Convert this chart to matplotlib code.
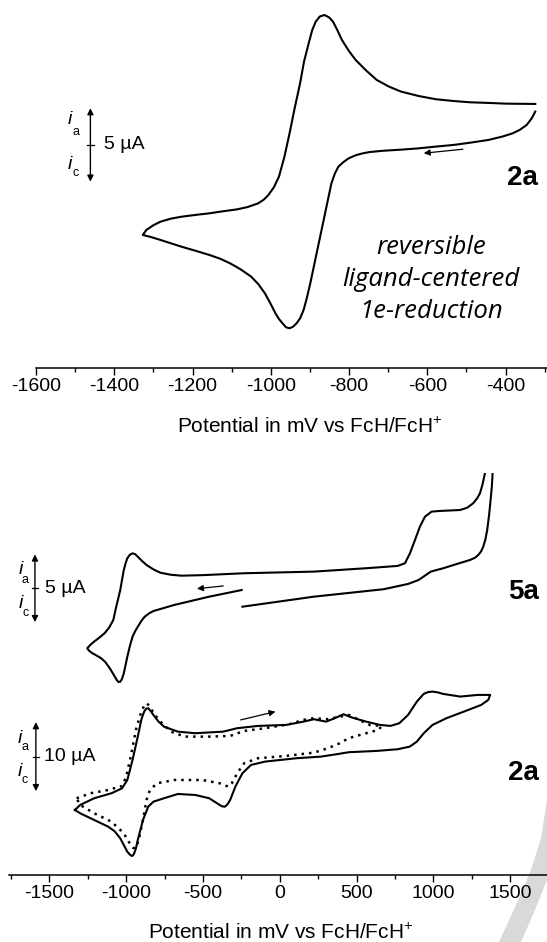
import matplotlib
matplotlib.use("Agg")
import matplotlib.pyplot as plt
from matplotlib.patches import Polygon
from matplotlib.ticker import MultipleLocator

plt.rcParams['font.family'] = ['Liberation Sans', 'DejaVu Sans']
plt.rcParams['mathtext.fontset'] = 'custom'
plt.rcParams['mathtext.rm'] = 'Liberation Sans'
plt.rcParams['axes.unicode_minus'] = False

# ---- data (potential in mV vs FcH/FcH+, current in uA) ----
# top panel, complex 2a, -1330 ... -320 mV
E_2a_top = [-324, -333, -346, -364, -382, -408, -444, -489, -533, -578, -622, -667, -711, -747, -765,
            -783, -801, -814, -827, -836, -845, -854, -863, -872, -881, -890, -899, -908, -916, -925,
            -934, -943, -952, -961, -970, -979, -988, -1001, -1015, -1032, -1050, -1077, -1104, -1130,
            -1157, -1193, -1228, -1255, -1282, -1304, -1327,
            -1318, -1300, -1282, -1255, -1228, -1193, -1157, -1122, -1086, -1059, -1032, -1017, -1006,
            -992, -979, -965, -952, -939, -925, -915, -903, -894, -885, -875, -863, -851, -841, -830,
            -818, -801, -783, -756, -729, -698, -667, -622, -578, -533, -489, -444, -399, -324]
I_2a_top = [2.27, 1.81, 1.36, 1.02, 0.79, 0.57, 0.34, 0.16, 0.0, -0.11, -0.23, -0.32, -0.39, -0.48,
            -0.57, -0.70, -0.91, -1.16, -1.47, -1.93, -2.61, -3.74, -4.88, -6.01, -7.14, -8.28, -9.41,
            -10.43, -11.22, -11.79, -12.13, -12.36, -12.47, -12.40, -12.13, -11.84, -11.45, -10.77,
            -10.09, -9.46, -8.96, -8.46, -8.05, -7.73, -7.48, -7.19, -6.92, -6.69, -6.46, -6.28, -6.12,
            -5.78, -5.46, -5.22, -5.01, -4.88, -4.76, -4.65, -4.51, -4.38, -4.22, -3.97, -3.70, -3.40,
            -2.88, -2.15, -0.79, 0.79, 2.49, 4.20, 5.67, 6.92, 7.82, 8.39, 8.73, 8.84, 8.68, 8.39, 7.82,
            7.14, 6.42, 5.78, 5.06, 4.42, 3.97, 3.63, 3.33, 3.11, 2.99, 2.90, 2.86, 2.81, 2.79]

# middle trace, complex 5a
E_5a = [-248, -459, -686, -822, -850, -879, -900, -924, -940, -958, -975, -992, -1004, -1015, -1027,
        -1038, -1050, -1061, -1080, -1106, -1135, -1162, -1190, -1219, -1240, -1253,
        -1230, -1208, -1175, -1140, -1110, -1083, -1065, -1050, -1038, -1026, -1015, -1003, -992, -975,
        -958, -941, -924, -895, -867, -820, -777, -710, -640, -500, -232, 222, 562, 767, 815, 847, 880,
        912, 945, 988, 1042, 1100, 1173, 1220, 1259, 1285, 1303, 1320, 1335, 1360, 1392, 1385,
        1380, 1372, 1362, 1350, 1338, 1324, 1310, 1292, 1270, 1238, 1151, 1064, 1021, 983, 903, 835,
        676, 222, -243]
I_5a = [-0.13, -0.62, -1.23, -1.68, -1.85, -2.10, -2.40, -2.84, -3.15, -3.57, -4.25, -5.05, -5.70, -6.28,
        -6.70, -6.90, -6.92, -6.77, -6.40, -5.91, -5.45, -5.17, -4.98, -4.80, -4.62, -4.43,
        -4.15, -3.94, -3.65, -3.32, -2.90, -2.34, -1.40, -0.70, -0.13, 0.65, 1.35, 1.85, 2.22, 2.48,
        2.58, 2.52, 2.33, 2.00, 1.72, 1.38, 1.15, 1.00, 0.93, 0.97, 1.11, 1.23, 1.48, 1.65, 1.85, 2.58,
        3.57, 4.55, 5.29, 5.66, 5.71, 5.74, 5.78, 5.95, 6.28, 6.65, 7.02, 7.70, 8.49, 12.0, 12.0, 8.49,
        7.50, 6.52, 5.40, 4.31, 3.60, 3.07, 2.72, 2.46, 2.25, 2.09, 1.79, 1.48, 1.35, 1.23, 0.61, 0.32,
        -0.07, -0.62, -1.36]

# bottom trace, complex 2a, full window (solid)
E_2a_full = [-1333, -1299, -1208, -1095, -1026, -992, -958, -924, -901, -890, -879, -867, -856, -840,
             -822, -790, -754, -663, -550, -368, -277, -141, 40, 154, 222, 301, 358, 415, 472, 562, 653,
             721, 778, 835, 892, 937, 965, 994, 1030, 1062, 1175, 1289, 1369,
             1357, 1311, 1198, 1085, 994, 937, 892, 846, 767, 631, 449, 381, 267, 109, -96, -187, -243,
             -289, -323, -340, -357, -375, -391, -459, -550, -663, -754, -822, -856, -890, -924, -935,
             -947, -955, -963, -975, -992, -1015, -1038, -1075, -1117, -1208, -1299, -1333]
I_2a_full = [-7.72, -7.0, -6.03, -5.30, -4.58, -3.38, -0.48, 2.90, 5.32, 6.10, 6.67, 6.98, 7.01, 6.60,
             6.04, 5.10, 4.35, 3.62, 3.39, 3.62, 4.12, 4.45, 4.59, 5.07, 5.42, 5.07, 5.57, 6.14, 5.65,
             5.07, 4.59, 4.45, 4.84, 6.04, 7.97, 9.09, 9.35, 9.42, 9.30, 9.09, 8.70, 8.94, 8.94,
             8.22, 7.49, 6.52, 5.57, 4.59, 3.39, 2.17, 1.45, 1.07, 0.83, 0.64, 0.39, 0.0, -0.23, -0.72,
             -1.20, -2.41, -4.35, -6.28, -6.90, -7.25, -7.20, -7.0, -6.03, -5.55, -5.41, -6.03, -6.52,
             -7.25, -9.17, -12.07, -13.20, -14.0, -14.30, -14.39, -14.20, -13.77, -12.80, -11.83, -10.80,
             -10.14, -9.17, -8.2, -7.72]

# bottom trace, complex 2a, reversed at +660 mV (dotted)
E_2a_short = [-1322, -1231, -1117, -1026, -999, -970, -936, -901, -884, -867, -850, -834, -788, -709,
              -618, -459, -323, -232, -96, 63, 154, 222, 313, 392, 449, 517, 585, 664,
              642, 562, 449, 381, 313, 222, 40, -141, -232, -277, -312, -334, -391, -504, -686, -799,
              -845, -867, -890, -913, -927, -940, -955, -970, -1015, -1095, -1208, -1299, -1322]
I_2a_short = [-6.03, -5.30, -4.83, -4.25, -2.90, 0.0, 3.87, 6.52, 7.30, 7.74, 7.40, 6.77, 5.32, 3.62,
              2.90, 2.90, 3.0, 3.72, 4.12, 4.70, 5.32, 5.57, 5.42, 5.80, 6.04, 5.32, 4.59, 4.45,
              3.87, 3.39, 2.67, 1.84, 1.22, 0.58, 0.10, -0.23, -0.96, -2.41, -3.86, -4.35, -3.86, -3.38,
              -3.38, -3.86, -4.83, -6.28, -9.17, -11.59, -12.70, -13.28, -13.20, -12.80, -11.10, -9.42,
              -8.2, -7.0, -6.03]

W, H = 547, 942


def box(x0, y0, x1, y1):
    # pixel box (top-left origin) -> figure fraction
    return [x0 / W, 1 - y1 / H, (x1 - x0) / W, (y1 - y0) / H]


def scale_bar(ax, x, half, label, tick, dx_text, dx_i, dx_sub, y_i):
    # y_i = (i_a letter, a, i_c letter, c) heights in uA
    ax.annotate('', xy=(x, half), xytext=(x, -half),
                arrowprops=dict(arrowstyle='<|-|>', lw=1.0, color='k', mutation_scale=9,
                                shrinkA=0, shrinkB=0))
    ax.plot([x - tick, x + tick], [0, 0], color='k', lw=0.9)
    ax.text(x + dx_text, 0, label, fontsize=14, ha='left', va='center')
    ax.text(x - dx_i, y_i[0], 'i', fontsize=14, style='italic', ha='center', va='center')
    ax.text(x - dx_sub, y_i[1], 'a', fontsize=9, ha='center', va='center')
    ax.text(x - dx_i, y_i[2], 'i', fontsize=14, style='italic', ha='center', va='center')
    ax.text(x - dx_sub, y_i[3], 'c', fontsize=9, ha='center', va='center')


def direction(ax, x0, y0, x1, y1):
    ax.annotate('', xy=(x1, y1), xytext=(x0, y0),
                arrowprops=dict(arrowstyle='-|>', lw=0.9, color='k', mutation_scale=9,
                                shrinkA=0, shrinkB=0))


def style_axis(ax, major, minor):
    for s in ['left', 'right', 'top']:
        ax.spines[s].set_visible(False)
    ax.spines['bottom'].set_linewidth(1.1)
    ax.set_yticks([])
    ax.xaxis.set_major_locator(MultipleLocator(major))
    ax.xaxis.set_minor_locator(MultipleLocator(minor))
    ax.tick_params(axis='x', which='major', length=5.3, width=1.0, labelsize=14, pad=2)
    ax.tick_params(axis='x', which='minor', length=2.6, width=1.0)
    ax.patch.set_visible(False)


fig = plt.figure(figsize=(W / 100, H / 100), dpi=100)

# ---- top panel ----
ax1 = fig.add_axes(box(36, 0, 547, 367.7))
ax1.plot(E_2a_top, I_2a_top, color='k', lw=1.5)
ax1.set_xlim(-1600, -294)
ax1.set_ylim(-15.15, 9.86)
style_axis(ax1, 200, 100)
scale_bar(ax1, -1461, 2.5, '5 µA', 8, 35, 53, 38, (1.75, 0.86, -1.36, -1.93))
direction(ax1, -509, -0.29, -609, -0.56)
fig.text(538 / W, 1 - 178 / H, '2a', fontsize=20, weight='bold', ha='right', va='center')
for k, line in enumerate(['reversible', 'ligand-centered', '1e-reduction']):
    fig.text(431 / W, 1 - (247 + 32.5 * k) / H, line, family='Open Sans', style='italic',
             fontsize=18.5, ha='center', va='center')
fig.text(310 / W, 1 - 427 / H, 'Potential in mV vs FcH/FcH$^{+}$', fontsize=15,
         ha='center', va='center')

# ---- middle trace (5a) ----
xl = (-1760, 1739)
ax2 = fig.add_axes(box(9.3, 473.3, 547, 700))
ax2.plot(E_5a, I_5a, color='k', lw=1.5)
ax2.set_xlim(*xl)
ax2.set_ylim(-8.25, 8.49)
ax2.axis('off')
scale_bar(ax2, -1593, 2.5, '5 µA', 20, 65, 91, 62, (1.35, 0.61, -1.11, -1.80))
direction(ax2, -368, 0.17, -539, -0.03)
fig.text(539 / W, 1 - 592 / H, '5a', fontsize=20, weight='bold', ha='right', va='center')

# ---- bottom trace (2a) ----
ax3 = fig.add_axes(box(9.3, 680, 547, 874.7))
ax3.plot(E_2a_full, I_2a_full, color='k', lw=1.5)
ax3.plot(E_2a_short, I_2a_short, color='k', lw=1.8, linestyle=(0, (1, 2)))
ax3.set_xlim(*xl)
ax3.set_ylim(-17.1, 11.1)
style_axis(ax3, 500, 250)
scale_bar(ax3, -1587, 5, '10 µA', 20, 50, 103, 71, (2.67, 1.36, -2.17, -3.38))
direction(ax3, -254, 5.32, -28, 6.52)
fig.text(539 / W, 1 - 773 / H, '2a', fontsize=20, weight='bold', ha='right', va='center')
fig.text(281 / W, 1 - 933 / H, 'Potential in mV vs FcH/FcH$^{+}$', fontsize=15,
         ha='center', va='center')

# faint watermark stroke in the lower right corner
wm = [(547, 800), (541, 838), (531, 870), (516, 905), (499, 942), (521, 942), (535, 910), (547, 880)]
fig.add_artist(Polygon([(x / W, 1 - y / H) for x, y in wm], closed=True,
                       transform=fig.transFigure, facecolor='#d9d9d9', edgecolor='none', zorder=-1))

fig.savefig('out.png', dpi=100)
